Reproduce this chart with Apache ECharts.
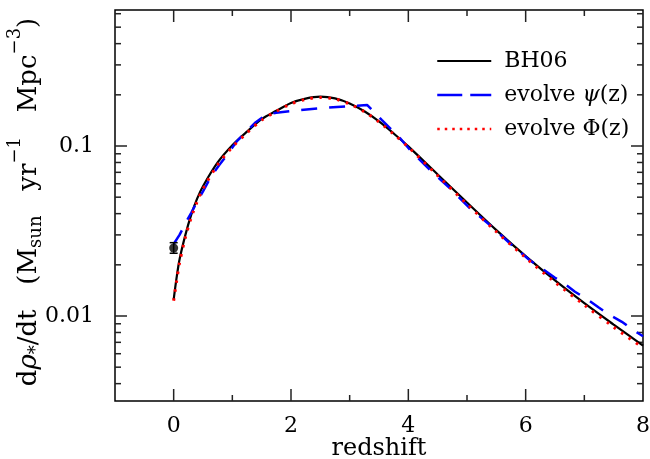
<!DOCTYPE html>
<html>
<head>
<meta charset="utf-8">
<script src="https://cdn.jsdelivr.net/npm/echarts@6/dist/echarts.min.js"></script>
<style>html,body{margin:0;padding:0;background:#fff}#c{width:650px;height:459px}</style>
</head>
<body>
<div id="c"></div>
<script>
// ---- data ----
const zBH06 = [0, 0.05, 0.1, 0.2, 0.3, 0.4, 0.5, 0.75, 1.0, 1.25, 1.5, 1.75, 2.0, 2.25, 2.5, 2.75, 3.0, 3.25, 3.5, 3.75, 4.0, 4.5, 5.0, 5.5, 6.0, 6.5, 7.0, 7.5, 8.0];
const sfrBH06 = [0.0125, 0.0168, 0.0215, 0.0300, 0.0395, 0.0490, 0.0580, 0.0800, 0.1010, 0.1215, 0.1440, 0.1610, 0.1790, 0.1900, 0.1950, 0.1905, 0.1780, 0.1600, 0.1395, 0.1185, 0.0995, 0.0680, 0.0465, 0.0320, 0.0225, 0.0162, 0.0119, 0.0089, 0.0067];

const zPsi = [0, 0.1, 0.2, 0.3, 0.4, 0.5, 0.64, 0.78, 0.93, 1.07, 1.25, 1.4, 1.5, 1.6, 1.75, 2.0, 2.5, 3.0, 3.3, 3.55, 3.86, 4.03, 4.37, 4.71, 5.05, 5.39, 5.73, 6.07, 6.3, 6.5, 6.67, 6.84, 7.07, 7.24, 7.44, 7.64, 7.83, 8.0];
const sfrPsi = [0.0265, 0.0300, 0.0351, 0.0405, 0.0470, 0.0540, 0.0665, 0.0775, 0.0905, 0.1060, 0.1225, 0.1380, 0.1460, 0.1540, 0.1570, 0.1607, 0.1667, 0.1718, 0.1740, 0.1420, 0.1110, 0.0947, 0.0723, 0.0564, 0.0430, 0.0343, 0.0268, 0.0213, 0.0188, 0.0168, 0.0154, 0.0139, 0.0124, 0.01125, 0.0101, 0.00924, 0.00828, 0.0076];

const zPhi = [0, 0.05, 0.1, 0.2, 0.3, 0.4, 0.5, 0.75, 1.0, 1.25, 1.5, 1.75, 2.0, 2.25, 2.5, 2.75, 3.0, 3.25, 3.5, 3.75, 4.0, 4.5, 5.0, 5.5, 6.0, 6.5, 7.0, 7.5, 8.0];
const sfrPhi = [0.0123, 0.0160, 0.0205, 0.0290, 0.0380, 0.0470, 0.0560, 0.0775, 0.0985, 0.1195, 0.1420, 0.1600, 0.1770, 0.1880, 0.1930, 0.1890, 0.1765, 0.1590, 0.1385, 0.1175, 0.0985, 0.0670, 0.0455, 0.0313, 0.0220, 0.0158, 0.0116, 0.0086, 0.0065];

const obsPoint = [0, 0.0251];      // z, value
const obsError = [0.0234, 0.0270]; // low, high

const xMajorTicks = [0, 2, 4, 6];
const xMinorTicks = [1, 3, 5, 7];
const yMajorTicks = [0.01, 0.1];
const yMinorTicks = [0.004, 0.005, 0.006, 0.007, 0.008, 0.009, 0.02, 0.03, 0.04, 0.05, 0.06, 0.07, 0.08, 0.09, 0.2, 0.3, 0.4, 0.5, 0.6];
const xLabels = {0: '0', 2: '2', 4: '4', 6: '6', 8: '8'};
const yLabels = ['0.01', '0.1'];
const seriesNames = ['BH06', 'evolve \u03c8(z)', 'evolve \u03a6(z)'];

const X_MIN = -1, X_MAX = 8;
const Y_MIN = Math.pow(10, -2.5), Y_MAX = Math.pow(10, -0.2);

const FONT = 'DejaVu Serif';
const zip = (a, b) => a.map((v, i) => [v, b[i]]);

// tick marks data: [x, y, length, isY]
const tickData = [];
xMajorTicks.forEach(v => tickData.push([v, Y_MIN, 12, 0]));
xMinorTicks.forEach(v => tickData.push([v, Y_MIN, 6, 0]));
yMajorTicks.forEach(v => tickData.push([X_MIN, v, 12, 1]));
yMinorTicks.forEach(v => tickData.push([X_MIN, v, 6, 1]));

const hideSym = {opacity: 0};

const chart = echarts.init(document.getElementById('c'), null, {renderer: 'canvas'});
chart.setOption({
  animation: false,
  backgroundColor: '#fff',
  grid: {left: 115, right: 7, top: 10, bottom: 58, containLabel: false, outerBoundsMode: 'none',
         show: true, borderColor: '#000', borderWidth: 1.5, backgroundColor: 'transparent'},
  xAxis: {
    type: 'value', min: X_MIN, max: X_MAX, interval: 1,
    axisLine: {show: false}, axisTick: {show: false}, splitLine: {show: false},
    axisLabel: {
      margin: 14, fontSize: 22, fontFamily: FONT, color: '#000',
      formatter: v => (xLabels[v] !== undefined ? xLabels[v] : '')
    },
    name: 'redshift', nameLocation: 'middle', nameGap: 36, nameMoveOverlap: false,
    nameTextStyle: {fontSize: 24, fontFamily: FONT, color: '#000'}
  },
  yAxis: {
    type: 'log', logBase: 10, min: Y_MIN, max: Y_MAX,
    axisLine: {show: false}, axisTick: {show: false}, splitLine: {show: false},
    axisLabel: {
      margin: 21, fontSize: 22, fontFamily: FONT, color: '#000',
      formatter: v => {
        const l = Math.log10(v);
        for (const s of yLabels) { if (Math.abs(l - Math.log10(parseFloat(s))) < 1e-6) return s; }
        return '';
      }
    }
  },
  legend: {
    orient: 'vertical', left: 436, top: 50, padding: 0,
    itemWidth: 54, itemHeight: 2, itemGap: 12,
    textStyle: {fontSize: 22, fontFamily: FONT, color: '#000', lineHeight: 22, padding: [0, 0, 0, 8],
      rich: {it: {fontSize: 22, fontFamily: FONT, fontStyle: 'italic', color: '#000'}}},
    formatter: name => (name === seriesNames[1] ? 'evolve {it|\u03c8}(z)' : name),
    data: [
      {name: seriesNames[0], itemStyle: hideSym, lineStyle: {color: '#000', width: 2.2, type: 'solid'}},
      {name: seriesNames[1], itemStyle: hideSym, lineStyle: {color: '#0000ff', width: 2.5, type: [25, 8]}},
      {name: seriesNames[2], itemStyle: hideSym, lineStyle: {color: '#ff0000', width: 2.5, type: [2.5, 5]}}
    ]
  },
  graphic: [{
    type: 'text', x: 29, y: 202, rotation: Math.PI / 2,
    style: {
      text: 'd{it|\u03c1}{sub|*}/dt   (M{sub|sun}   yr{sup|\u22121}   Mpc{sup|\u22123})',
      fontSize: 26, fontFamily: FONT, fill: '#000', align: 'center', verticalAlign: 'middle',
      rich: {
        it: {fontSize: 26, fontFamily: FONT, fontStyle: 'italic'},
        sub: {fontSize: 18, fontFamily: FONT, padding: [14, 0, 0, 0]},
        sup: {fontSize: 18, fontFamily: FONT, padding: [0, 0, 28, 0]}
      }
    }
  }],
  series: [
    {
      type: 'custom', name: 'ticks', silent: true, z: 1,
      data: tickData,
      renderItem: (params, api) => {
        const len = api.value(2), isY = api.value(3);
        const style = {stroke: '#222', lineWidth: 1.5};
        if (isY) {
          const v = api.value(1);
          const a = api.coord([X_MIN, v]), b = api.coord([X_MAX, v]);
          return {type: 'group', children: [
            {type: 'line', shape: {x1: a[0], y1: a[1], x2: a[0] + len, y2: a[1]}, style},
            {type: 'line', shape: {x1: b[0], y1: b[1], x2: b[0] - len, y2: b[1]}, style}
          ]};
        }
        const v = api.value(0);
        const a = api.coord([v, Y_MIN]), b = api.coord([v, Y_MAX]);
        return {type: 'group', children: [
          {type: 'line', shape: {x1: a[0], y1: a[1], x2: a[0], y2: a[1] - len}, style},
          {type: 'line', shape: {x1: b[0], y1: b[1], x2: b[0], y2: b[1] + len}, style}
        ]};
      }
    },
    {
      type: 'line', name: seriesNames[0], data: zip(zBH06, sfrBH06), symbol: 'none', smooth: 0.3, z: 3,
      lineStyle: {color: '#000', width: 2.2}, itemStyle: {color: '#000'}
    },
    {
      type: 'line', name: seriesNames[1], data: zip(zPsi, sfrPsi), symbol: 'none', smooth: false, z: 4,
      lineStyle: {color: '#0000ff', width: 2.5, type: [16, 12]}, itemStyle: {color: '#0000ff'}
    },
    {
      type: 'line', name: seriesNames[2], data: zip(zPhi, sfrPhi), symbol: 'none', smooth: 0.3, z: 5,
      lineStyle: {color: '#ff0000', width: 3, type: [2.5, 6.5]}, itemStyle: {color: '#ff0000'}
    },
    {
      type: 'custom', name: 'error', silent: true, z: 6,
      data: [[obsPoint[0], obsPoint[1], obsError[0], obsError[1]]],
      renderItem: (params, api) => {
        const lo = api.coord([api.value(0), api.value(2)]);
        const hi = api.coord([api.value(0), api.value(3)]);
        const style = {stroke: '#000', lineWidth: 1.5};
        return {type: 'group', children: [
          {type: 'line', shape: {x1: lo[0], y1: lo[1], x2: hi[0], y2: hi[1]}, style},
          {type: 'line', shape: {x1: lo[0] - 4, y1: lo[1], x2: lo[0] + 4, y2: lo[1]}, style},
          {type: 'line', shape: {x1: hi[0] - 4, y1: hi[1], x2: hi[0] + 4, y2: hi[1]}, style}
        ]};
      }
    },
    {
      type: 'scatter', name: 'obs', data: [obsPoint], symbol: 'circle', symbolSize: 9, z: 7,
      itemStyle: {color: '#000'}
    }
  ]
});
</script>
</body>
</html>
